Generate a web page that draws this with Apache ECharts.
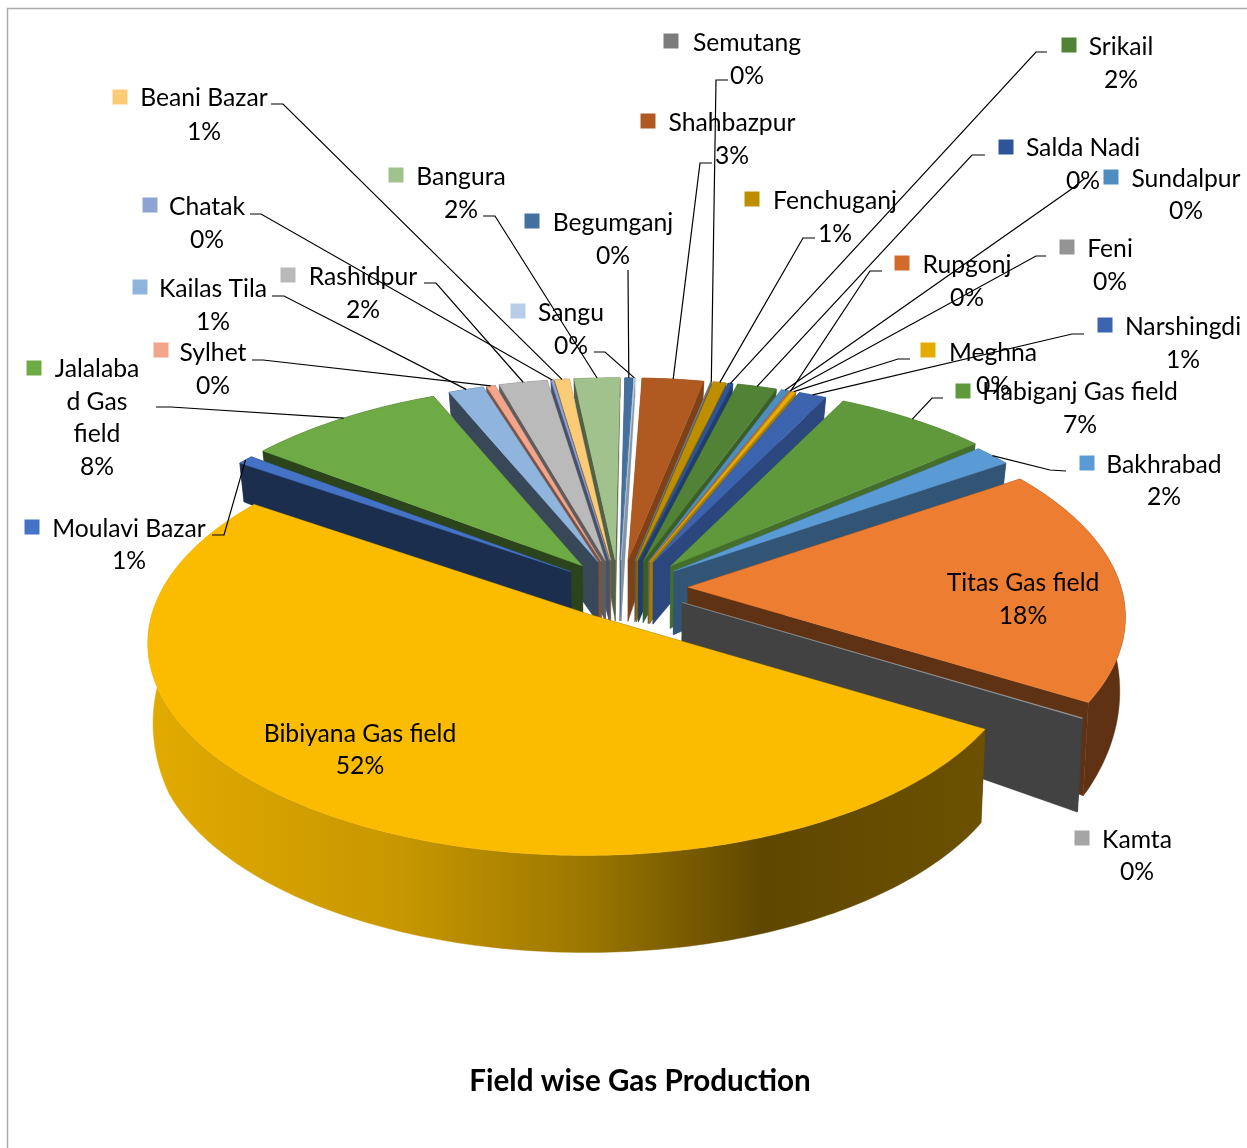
<!DOCTYPE html>
<html><head><meta charset="utf-8"><style>html,body{margin:0;padding:0;background:#fff}#c{width:1247px;height:1148px}</style>
<script src="https://cdn.jsdelivr.net/npm/echarts@6/dist/echarts.min.js"></script></head>
<body><div id="c"></div>
<script>
// ---- data (share of production, % ; clockwise from the Titas slice)
const fieldNames = ['Titas Gas field','Kamta','Bibiyana Gas field','Moulavi Bazar','Jalalabad Gas field','Kailas Tila','Sylhet','Rashidpur','Chatak','Beani Bazar','Bangura','Begumganj','Sangu','Shahbazpur','Semutang','Fenchuganj','Salda Nadi','Srikail','Sundalpur','Feni','Rupgonj','Meghna','Narshingdi','Habiganj Gas field','Bakhrabad'];
const fieldValues = [17.5,0.05,52.4,0.6,7.6,1.4,0.35,1.95,0.1,0.6,1.9,0.33,0.05,2.6,0.05,0.55,0.2,1.7,0.32,0.03,0.03,0.2,1.2,6.6,1.6];
const chartTitle = 'Field wise Gas Production';
// ---- styles
const fieldColors = ['#ED7D31','#A5A5A5','#FBBC00','#4472C4','#6FAB45','#8FB4DE','#F2A58A','#BABABA','#8FA2D4','#FBCB78','#A1C28C','#43709F','#B8CEE8','#B05A22','#7C7C7C','#BD8F00','#2E5597','#528235','#4F8DBE','#949494','#D26A2B','#E5AB00','#3C63AE','#5F993C','#5B9BD5'];
// ---- label layout: key [x,y], text centre x, y of each line, leader [start, elbow] and slice the leader goes to
const labelLayout = {
 'Titas Gas field':{key:[928,581],cx:1023,ys:[582,615]},
 'Kamta':{key:[1082,838],cx:1137,ys:[839,871]},
 'Bibiyana Gas field':{key:[242,732],cx:360,ys:[733,765]},
 'Moulavi Bazar':{key:[32,527],cx:129,ys:[528,560],lead:[[212,535],[224,535]]},
 'Jalalabad Gas field':{key:[34,368],cx:97,ys:[368,401,433,466],lines:['Jalalaba','d Gas','field'],lead:[[156,407],[171,407]]},
 'Kailas Tila':{key:[140,287],cx:213,ys:[288,321],lead:[[272,296],[284,296]]},
 'Sylhet':{key:[161,350],cx:213,ys:[352,385],lead:[[252,360],[263,360]]},
 'Rashidpur':{key:[288,275],cx:363,ys:[276,309],lead:[[424,283],[436,283]]},
 'Chatak':{key:[150,205],cx:207,ys:[206,239],lead:[[250,214],[261,214]]},
 'Beani Bazar':{key:[120,97],cx:204,ys:[97,131],lead:[[271,104],[283,104]]},
 'Bangura':{key:[396,175],cx:461,ys:[176,209],lead:[[483,216],[495,216]]},
 'Begumganj':{key:[532,221],cx:613,ys:[222,255],lead:[[628,270],[628,272]]},
 'Sangu':{key:[518,311],cx:571,ys:[312,345],lead:[[594,352],[605,352]]},
 'Shahbazpur':{key:[648,121],cx:732,ys:[122,155],lead:[[712,163],[700,163]]},
 'Semutang':{key:[671,41],cx:747,ys:[42,75],lead:[[728,80],[716,80]]},
 'Fenchuganj':{key:[752,199],cx:835,ys:[200,233],lead:[[815,238],[803,238]]},
 'Salda Nadi':{key:[1006,147],cx:1083,ys:[147,180],lead:[[985,155],[972,155]],to:'Srikail'},
 'Srikail':{key:[1069,45],cx:1121,ys:[46,79],lead:[[1047,52],[1036,52]],to:'Salda Nadi'},
 'Sundalpur':{key:[1111,177],cx:1186,ys:[178,210],lead:[[1085,178],[1073,188]]},
 'Feni':{key:[1067,247],cx:1110,ys:[248,281],lead:[[1046,256],[1036,256]]},
 'Rupgonj':{key:[902,263],cx:967,ys:[264,297],lead:[[882,271],[870,271]]},
 'Meghna':{key:[928,350],cx:993,ys:[352,385],lead:[[910,359],[898,359]]},
 'Narshingdi':{key:[1105,325],cx:1183,ys:[326,359],lead:[[1084,334],[1072,334]]},
 'Habiganj Gas field':{key:[963,391],cx:1080,ys:[391,424],lead:[[943,398],[932,398]]},
 'Bakhrabad':{key:[1087,463],cx:1164,ys:[464,496],lead:[[1066,471],[1050,470]]}
};
// ---- geometry of the tilted, exploded disc
const CX=618, CY=588, EY=28, RX=433, RY=208, PERSP=0.1415, START=53.5;
const FONT='24.7px Lato';
const rad=d=>d*Math.PI/180;
const warp=t=>t+5*Math.sin(rad(t+20))+2.5*Math.sin(rad(2*(t-285)));
const explodeX=m=>{m=(m+360)%360;return m<40?85:m<100?70:m<150?75:m<270?75:58;};
const total=fieldValues.reduce((a,b)=>a+b,0);
let acc=START;
const slices=fieldValues.map((v,i)=>{const a0=acc;acc+=v/total*360;const mid=warp((a0+acc)/2);
  return {i,a0,a1:acc,mid,tip:[CX+explodeX(mid)*Math.sin(rad(mid)),CY-EY*Math.cos(rad(mid))]};});
const ranked=slices.slice().sort((a,b)=>(-Math.cos(rad(a.mid)))-(-Math.cos(rad(b.mid))));
ranked.forEach((s,r)=>{s.rank=r;});
function rim(s,t){const w=rad(warp(t)),u=Math.sin(w),vv=-Math.cos(w),p=1/(1-PERSP*vv);
  return [s.tip[0]+RX*u*p,s.tip[1]+RY*vv*p];}
function under(pt){const y=pt[1],h=y<700?20+(y-380)*0.228:93+(y-700)*0.026;
  return [pt[0]-(pt[0]-620)*0.011,y+h];}
function shade(hex,f){const n=parseInt(hex.slice(1),16);
  return 'rgb('+[n>>16&255,n>>8&255,n&255].map(c=>Math.round(c*f)).join(',')+')';}
function wallFactor(m){m=(m+360)%360;
  if(m<40)return .72; if(m<58)return .55; if(m<340)return .4; return .5;}
function renderItem(params,api){
  const i=params.dataIndex,s=slices[i],name=fieldNames[i],col=fieldColors[i];
  const wall=shade(col,wallFactor(s.mid)),base=s.rank*4+1;
  const n=Math.max(2,Math.ceil(s.a1-s.a0)+1),arc=[];
  for(let k=0;k<n;k++)arc.push(rim(s,s.a0+(s.a1-s.a0)*k/(n-1)));
  const ub=arc.map(under),tb=under(s.tip),kids=[];
  const wallFill=name.startsWith('Bibiyana')?new echarts.graphic.LinearGradient(145,0,990,0,[
     {offset:0,color:'#E2AB00'},{offset:.3,color:'#C89700'},{offset:.52,color:'#9C7700'},{offset:.73,color:'#5F4700'},{offset:1,color:'#6B5100'}],true):wall;
  const poly=(pts,fill,z)=>kids.push({type:'polygon',shape:{points:pts},style:{fill,stroke:fill,lineWidth:.4},z2:z});
  poly([s.tip,tb,ub[0],arc[0]],wall,base);
  poly([s.tip,tb,ub[n-1],arc[n-1]],wall,base);
  poly(arc.concat(ub.slice().reverse()),wallFill,base+1);
  poly([s.tip].concat(arc),col,base+2);
  const L=labelLayout[name];
  kids.push({type:'rect',shape:{x:L.key[0]-7.5,y:L.key[1]-7.5,width:15,height:15},style:{fill:col},z2:1000});
  const pct=Math.round(api.value(0)/total*100)+'%';
  const lines=(L.lines||[name]).concat([pct]);
  lines.forEach((t,j)=>kids.push({type:'text',style:{text:t,x:L.cx,y:L.ys[j]+1,fill:'#000',font:FONT,textAlign:'center',textVerticalAlign:'middle'},z2:1001}));
  if(L.lead){
    const tgt=L.to?slices[fieldNames.indexOf(L.to)]:s,end=rim(tgt,(tgt.a0+tgt.a1)/2);
    kids.push({type:'polyline',shape:{points:[L.lead[0],L.lead[1],end]},style:{stroke:'#000',lineWidth:1.2,fill:'none'},z2:1002});
  }
  return {type:'group',children:kids};
}
const chart=echarts.init(document.getElementById('c'),null,{width:1247,height:1148});
chart.setOption({
  animation:false,backgroundColor:'#fff',
  title:{text:chartTitle,left:635,top:1061,textAlign:'center',textStyle:{fontFamily:'Lato',fontWeight:'bold',fontSize:29.6,color:'#000'}},
  graphic:[{type:'polyline',shape:{points:[[7.5,1148],[7.5,8.5],[1247,8.5]]},style:{stroke:'#ABABAB',lineWidth:1.5,fill:'none'},silent:true}],
  series:[{type:'custom',coordinateSystem:'none',silent:true,clip:false,renderItem,
    data:fieldNames.map((n,i)=>({name:n,value:[fieldValues[i]]}))}]
});
</script></body></html>
